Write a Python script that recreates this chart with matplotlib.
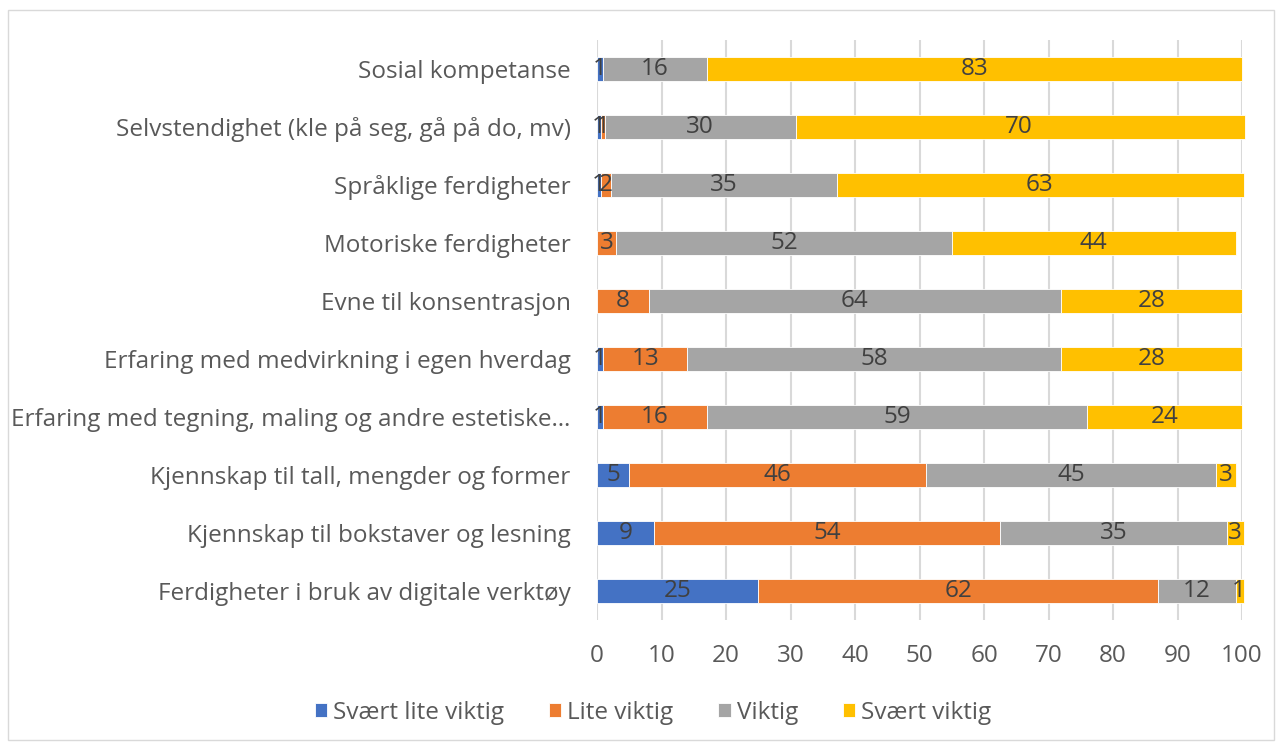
import numpy as np
import matplotlib.pyplot as plt
from matplotlib.patches import Rectangle

# ----------------------------------------------------------------------
# data (top row first; small decimals so the
# stacked totals end where the reference bars end)
# ----------------------------------------------------------------------
categories = [
    "Sosial kompetanse",
    "Selvstendighet (kle på seg, gå på do, mv)",
    "Språklige ferdigheter",
    "Motoriske ferdigheter",
    "Evne til konsentrasjon",
    "Erfaring med medvirkning i egen hverdag",
    "Erfaring med tegning, maling og andre estetiske…",
    "Kjennskap til tall, mengder og former",
    "Kjennskap til bokstaver og lesning",
    "Ferdigheter i bruk av digitale verktøy",
]
svaert_lite = [1.0, 0.6, 0.6, 0, 0, 1.0, 1.0, 5.0, 8.9, 25.0]
lite = [0, 0.6, 1.6, 3.0, 8.0, 13.0, 16.0, 46.0, 53.6, 62.0]
viktig = [16.0, 29.6, 35.0, 52.0, 64.0, 58.0, 59.0, 45.0, 35.2, 12.0]
svaert = [83.0, 69.6, 63.1, 44.0, 28.0, 28.0, 24.0, 3.0, 2.6, 1.3]

series = [
    ("Svært lite viktig", svaert_lite, "#4472C4"),
    ("Lite viktig", lite, "#ED7D31"),
    ("Viktig", viktig, "#A5A5A5"),
    ("Svært viktig", svaert, "#FFC000"),
]

FS = 17.5
plt.rcParams["font.family"] = ["Open Sans", "DejaVu Sans"]

fig = plt.figure(figsize=(12.82, 7.47), dpi=100)
ax = fig.add_axes([597 / 1282, 1 - 620 / 747, 645 / 1282, 580 / 747])

y = np.arange(len(categories))
left = np.zeros(len(categories))
for name, vals, col in series:
    vals = np.array(vals, dtype=float)
    bars = ax.barh(y, vals, left=left, height=0.4, color=col, label=name,
                   edgecolor="white", linewidth=0.6, clip_on=False, zorder=3)
    labels = [f"{v:.0f}" if v > 0 else "" for v in vals]
    ax.bar_label(bars, labels=labels, label_type="center", fontsize=FS,
                 color="#404040", zorder=4)
    left += vals

ax.set_xlim(0, 100)
ax.set_ylim(len(categories) - 0.5, -0.5)
ax.set_xticks(np.arange(0, 101, 10))
ax.set_yticks(y)
ax.set_yticklabels(categories)
ax.tick_params(axis="both", length=0, labelsize=FS, colors="#595959")
ax.tick_params(axis="x", pad=17)
ax.tick_params(axis="y", pad=19)
ax.grid(axis="x", color="#D9D9D9", linewidth=1.5, zorder=0)
for s in ax.spines.values():
    s.set_visible(False)

fig.legend(loc="center", bbox_to_anchor=(653 / 1282, 1 - 713 / 747), ncol=4,
           frameon=False, fontsize=FS, handlelength=0.5, handleheight=0.5,
           columnspacing=1.85, handletextpad=0.25, labelcolor="#595959")

fig.patches.append(Rectangle((8 / 1282, 7 / 747), 1266 / 1282, 730 / 747,
                             transform=fig.transFigure, fill=False,
                             edgecolor="#D9D9D9", linewidth=1))

fig.savefig("out.png", dpi=100, facecolor="white")
